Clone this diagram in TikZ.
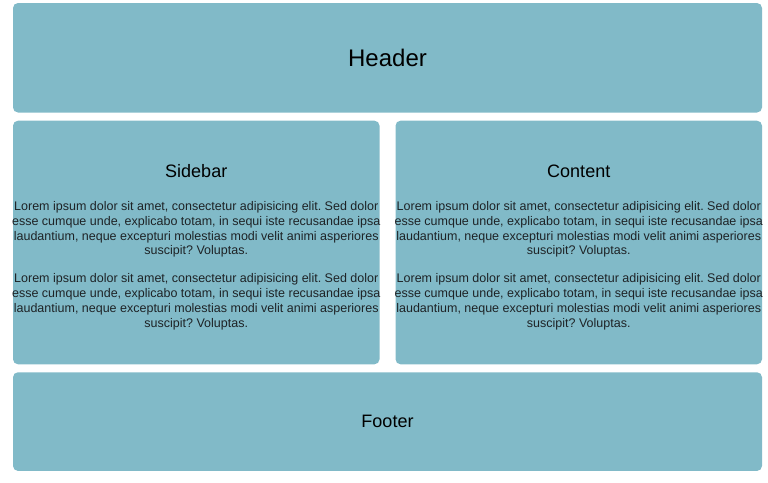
\documentclass[tikz,border=0pt]{standalone}
\usepackage{fontspec}
\setmainfont{Liberation Sans}
\frenchspacing
\definecolor{panel}{HTML}{81BAC8}
\definecolor{ink}{HTML}{1E2326}
\newcommand{\loremtext}{Lorem ipsum dolor sit amet, consectetur adipisicing elit. Sed dolor\\esse cumque unde, explicabo totam, in sequi iste recusandae ipsa\\laudantium, neque excepturi molestias modi velit animi asperiores\\suscipit? Voluptas.}
\begin{document}
\begin{tikzpicture}[x=1pt,y=-1pt,
  panelbox/.style={fill=panel,draw=none,rounded corners=5pt,inner sep=0pt},
  title/.style={text=black,font=\fontsize{18}{20}\selectfont},
  para/.style={text=ink,align=center,inner sep=0pt,font=\fontsize{12.5}{14.8}\selectfont}]
  \useasboundingbox (0,0) rectangle (768,482);
  % layout panels
  \node[panelbox,minimum width=749pt,minimum height=109.5pt] (header) at (387.5,57.75) {};
  \node[panelbox,minimum width=366.5pt,minimum height=243.6pt] (sidebar) at (196.25,242.5) {};
  \node[panelbox,minimum width=366.5pt,minimum height=243.6pt] (content) at (578.75,242.5) {};
  \node[panelbox,minimum width=749pt,minimum height=98.7pt] (footer) at (387.5,421.6) {};
  % titles
  \node[title,font=\fontsize{24}{26}\selectfont] (headert) at (387.5,57.5) {Header};
  \node[title] (sidebart) at (196.25,171.5) {Sidebar};
  \node[title] (contentt) at (578.75,171.5) {Content};
  \node[title] (footert) at (387.5,421.8) {Footer};
  % paragraphs
  \foreach \cx/\nm in {196.25/s,578.75/c}{
    \node[para] (\nm p1) at (\cx,229.5) {\loremtext};
    \node[para] (\nm p2) at (\cx,301.8) {\loremtext};
  }
\end{tikzpicture}
\end{document}
